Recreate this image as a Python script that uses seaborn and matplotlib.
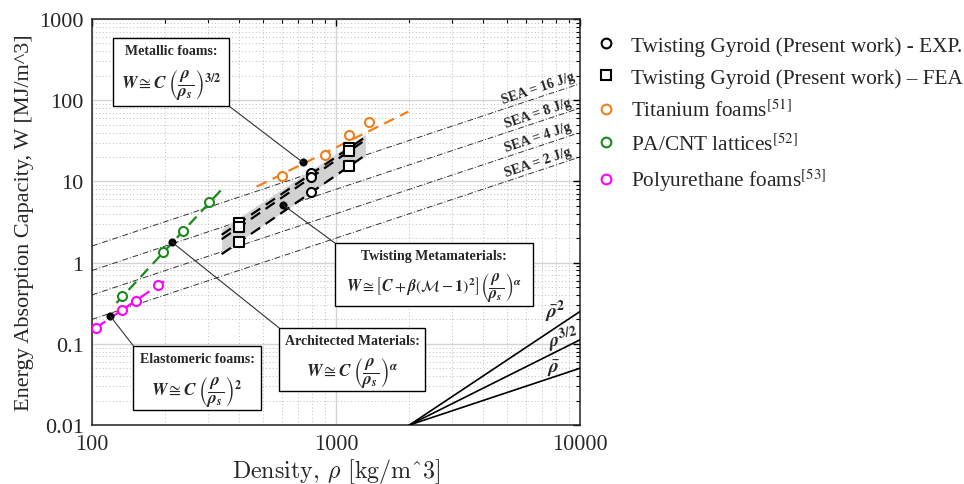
import numpy as np
import pandas as pd
import matplotlib
matplotlib.use("Agg")
import matplotlib.pyplot as plt
import seaborn as sns
from matplotlib.lines import Line2D
from matplotlib.patches import Rectangle
from matplotlib.ticker import LogLocator, NullFormatter

# ---------------- data ----------------
exp_rho = [790, 790, 790]
exp_W = [12.7, 11.2, 7.3]
fea_rho = [400, 400, 400, 1130, 1130, 1130]
fea_W = [3.07, 2.72, 1.78, 25.6, 23.5, 15.3]
ti_rho = [600, 900, 1130, 1370]
ti_W = [11.8, 21.1, 37.3, 53.4]
pa_rho = [133, 195, 237, 302]
pa_W = [0.39, 1.36, 2.47, 5.6]
pu_rho = [104, 133, 151, 186]
pu_W = [0.158, 0.263, 0.333, 0.53]

ti_fit_rho = [473, 1978]
ti_fit_W = [8.6, 72.2]
pa_fit_rho = [126, 343]
pa_fit_W = [0.318, 8.2]
pu_fit_rho = [104, 202]
pu_fit_W = [0.158, 0.616]

tw_fit_rho = [340, 1320]
tw_fit_top = [2.2, 35.2]
tw_fit_mid = [1.94, 32.4]
tw_fit_low = [1.27, 21.1]
band_upper = [2.6, 38.0]
band_lower = [1.3, 20.5]

model_rho = [730, 605, 213, 119]
model_W = [17.2, 5.17, 1.78, 0.218]

sea_values = [16, 8, 4, 2]
sea_rho = [100, 10000]
sea_W_start = [1.6, 0.8, 0.4, 0.2]
sea_W_end = [160, 80, 40, 20]

guide_rho = [2000, 10000]
guide_W2 = [0.01, 0.25]
guide_W15 = [0.01, 0.112]
guide_W1 = [0.01, 0.05]

x_ticks = [100, 1000, 10000]
x_ticklabels = ["100", "1000", "10000"]
y_ticks = [0.01, 0.1, 1, 10, 100, 1000]
y_ticklabels = ["0.01", "0.1", "1", "10", "100", "1000"]

legend_labels = [
    "Twisting Gyroid (Present work) - EXP.",
    "Twisting Gyroid (Present work) \u2013 FEA",
    "Titanium foams$^{[51]}$",
    "PA/CNT lattices$^{[52]}$",
    "Polyurethane foams$^{[53]}$",
]

ORANGE = "#f07f1e"
GREEN = "#1a8a1a"
MAGENTA = "#ff00ff"

sns.set_style("white")
plt.rcParams["mathtext.fontset"] = "stix"

fig = plt.figure(figsize=(9.64, 4.85), dpi=100)
ax = fig.add_axes([92 / 964, 59 / 485, 488 / 964, 406 / 485])
ax.set_xscale("log")
ax.set_yscale("log")
ax.set_xlim(100, 10000)
ax.set_ylim(0.01, 1000)

# grid
ax.grid(which="major", color="#d4d4d4", lw=1.0, ls="-", zorder=0)
ax.grid(which="minor", color="#bdbdbd", lw=0.7, ls=(0, (1, 2.5)), zorder=0)
ax.set_axisbelow(True)

# SEA iso lines
for s, w0, w1 in zip(sea_values, sea_W_start, sea_W_end):
    sns.lineplot(x=sea_rho, y=[w0, w1], ax=ax, color="#333333", lw=0.7,
                 linestyle=(0, (6, 2, 1, 2)), zorder=2)

# guide lines
for gw in (guide_W2, guide_W15, guide_W1):
    sns.lineplot(x=guide_rho, y=gw, ax=ax, color="black", lw=1.2, zorder=3)

# twisting band and fits
ax.fill_between(tw_fit_rho, band_lower, band_upper, color="#d2d2d2", lw=0, zorder=2)
for tw in (tw_fit_top, tw_fit_mid, tw_fit_low):
    sns.lineplot(x=tw_fit_rho, y=tw, ax=ax, color="black", lw=1.6,
                 linestyle=(0, (5, 3)), zorder=3)

# literature fits
sns.lineplot(x=ti_fit_rho, y=ti_fit_W, ax=ax, color=ORANGE, lw=1.6, linestyle=(0, (5, 3)), zorder=3)
sns.lineplot(x=pa_fit_rho, y=pa_fit_W, ax=ax, color=GREEN, lw=1.6, linestyle=(0, (5, 3)), zorder=3)
sns.lineplot(x=pu_fit_rho, y=pu_fit_W, ax=ax, color=MAGENTA, lw=1.6, linestyle=(0, (5, 3)), zorder=3)

# markers
def hollow(xs, ys, col, marker="o", s=42):
    sns.scatterplot(x=xs, y=ys, ax=ax, marker=marker, s=s, facecolors="white",
                    edgecolor=col, linewidth=1.5, zorder=4)

hollow(ti_rho, ti_W, ORANGE)
hollow(pa_rho, pa_W, GREEN)
hollow(pu_rho, pu_W, MAGENTA)
hollow(exp_rho, exp_W, "black")
hollow(fea_rho, fea_W, "black", marker="s", s=48)
sns.scatterplot(x=model_rho, y=model_W, ax=ax, color="black", s=28,
                edgecolor="black", linewidth=0.5, zorder=5)

# ticks
ax.set_xticks(x_ticks)
ax.set_xticklabels(x_ticklabels, fontfamily="cmr10", fontsize=16)
ax.set_yticks(y_ticks)
ax.set_yticklabels(y_ticklabels, fontfamily="Liberation Serif", fontsize=16)
ax.xaxis.set_minor_locator(LogLocator(base=10, subs=np.arange(2, 10)))
ax.yaxis.set_minor_locator(LogLocator(base=10, subs=np.arange(2, 10)))
ax.xaxis.set_minor_formatter(NullFormatter())
ax.yaxis.set_minor_formatter(NullFormatter())
ax.tick_params(which="both", direction="in", top=True, right=True, color="black")
ax.tick_params(which="major", length=5, width=1, pad=6)
ax.tick_params(which="minor", length=3, width=0.8)
for sp in ax.spines.values():
    sp.set_color("#222222")
    sp.set_linewidth(1.1)

ax.set_xlabel("Density, $\\rho$ [kg/m^3]", fontfamily="cmr10", fontsize=17.3,
              math_fontfamily="cm", labelpad=2)
ax.set_ylabel("Energy Absorption Capacity, W [MJ/m^3]", fontfamily="Liberation Serif",
              fontsize=16, labelpad=4)

# SEA labels
def disp_angle(x0, y0, x1, y1):
    p0 = ax.transData.transform((x0, y0))
    p1 = ax.transData.transform((x1, y1))
    return np.degrees(np.arctan2(p1[1] - p0[1], p1[0] - p0[0]))

ang = disp_angle(sea_rho[0], sea_W_start[0], sea_rho[1], sea_W_end[0])
for s, w1 in zip(sea_values, sea_W_end):
    xl = 6750
    yl = w1 * xl / sea_rho[1] * 1.3
    ax.text(xl, yl, f"SEA = {s} J/g", rotation=ang, rotation_mode="anchor",
            ha="center", va="center", fontsize=10, fontweight="bold",
            fontfamily="Liberation Serif", zorder=6)

# guide labels
ax.text(7900, 0.256, r"$\bar{\mathbfit{\rho}}^{\mathbf{2}}$", fontsize=14, ha="center", va="center", zorder=6)
ax.text(8500, 0.115, r"$\mathbfit{\rho}^{\mathbf{3/2}}$", fontsize=14, ha="center", va="center", rotation=10, zorder=6)
ax.text(7800, 0.05, r"$\bar{\mathbfit{\rho}}$", fontsize=14, ha="center", va="center", zorder=6)

# annotation boxes (axes fraction)
frac = r"\left(\dfrac{\mathbfit{\rho}}{\mathbfit{\rho}_{\mathbfit{s}}}\right)"
boxes = [
    ("Metallic foams:", r"$\mathbfit{W}\cong\mathbfit{C}\;" + frac + r"^{\mathbf{3/2}}$",
     (0.0424, 0.785, 0.2814, 0.9525), 0.922, 0.840, (0.2814, 0.785), 0, 12.5),
    ("Twisting Metamaterials:", r"$\mathbfit{W}\cong\left[\mathbfit{C}+\mathbfit{\beta}(\mathcal{M}-\mathbf{1})^{\mathbf{2}}\right]" + frac + r"^{\mathbfit{\alpha}}$",
     (0.498, 0.2924, 0.9043, 0.448), 0.417, 0.342, (0.498, 0.448), 1, 11.5),
    ("Architected Materials:", r"$\mathbfit{W}\cong\mathbfit{C}\;" + frac + r"^{\mathbfit{\alpha}}$",
     (0.3838, 0.0828, 0.682, 0.2387), 0.207, 0.132, (0.3838, 0.2387), 2, 12.5),
    ("Elastomeric foams:", r"$\mathbfit{W}\cong\mathbfit{C}\;" + frac + r"^{\mathbf{2}}$",
     (0.0846, 0.0377, 0.3457, 0.1953), 0.164, 0.084, (0.0846, 0.1953), 3, 12.5),
]
for title, formula, (x0, y0, x1, y1), ty, fy, corner, idx, fs in boxes:
    ax.add_patch(Rectangle((x0, y0), x1 - x0, y1 - y0, transform=ax.transAxes,
                           facecolor="white", edgecolor="black", lw=1.0, zorder=7))
    cx = (x0 + x1) / 2
    ax.text(cx, ty, title, transform=ax.transAxes, ha="center", va="center",
            fontsize=10, fontweight="bold", fontfamily="Liberation Serif", zorder=8)
    ax.text(cx, fy, formula, transform=ax.transAxes, ha="center", va="center",
            fontsize=fs, zorder=8)
    ax.annotate("", xy=(model_rho[idx], model_W[idx]), xycoords="data",
                xytext=corner, textcoords="axes fraction",
                arrowprops=dict(arrowstyle="-", lw=0.8, color="#333333",
                                shrinkA=0, shrinkB=0), zorder=6)

# legend
handles = [
    Line2D([], [], ls="none", marker="o", mfc="none", mec="black", ms=7, mew=1.5),
    Line2D([], [], ls="none", marker="s", mfc="none", mec="black", ms=7.5, mew=1.5),
    Line2D([], [], ls="none", marker="o", mfc="none", mec=ORANGE, ms=7, mew=1.5),
    Line2D([], [], ls="none", marker="o", mfc="none", mec=GREEN, ms=7, mew=1.5),
    Line2D([], [], ls="none", marker="o", mfc="none", mec=MAGENTA, ms=7, mew=1.5),
]
fig.legend(handles, legend_labels, loc="upper left", bbox_to_anchor=(596 / 964, 1 - 37 / 485),
           frameon=False, prop={"family": "Liberation Serif", "size": 15.3},
           handlelength=0.95, handletextpad=0.7, labelspacing=0.56, borderpad=0,
           borderaxespad=0)

fig.savefig("out.png", dpi=100)
